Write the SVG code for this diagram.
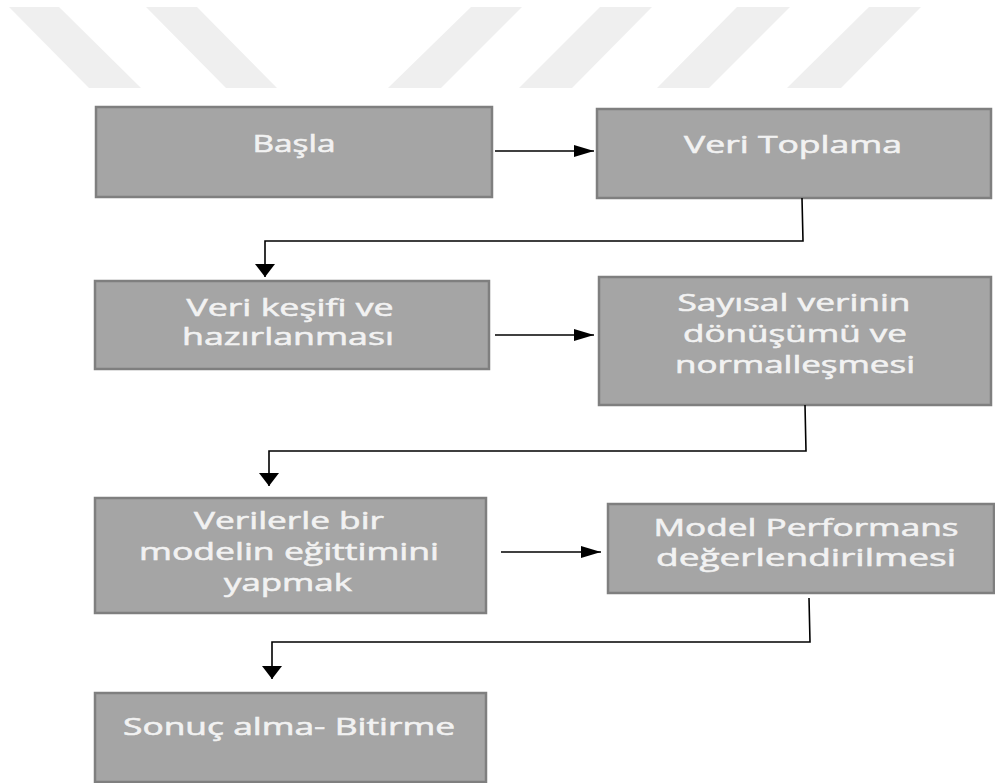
<svg xmlns="http://www.w3.org/2000/svg" width="995" height="783" viewBox="0 0 995 783">
<style>
.box{fill:#a5a5a5;stroke:#7f7f7f;stroke-width:2.5}
.lbl{font-family:"Open Sans","Liberation Sans",sans-serif;font-size:23px;fill:#f2f2f2;stroke:#f2f2f2;stroke-width:0.55;text-anchor:middle}
.wm{fill:#efefef}
.conn{fill:none;stroke:#000;stroke-width:1.6}
</style>
<defs>
<marker id="ah" markerUnits="userSpaceOnUse" markerWidth="21" markerHeight="13" refX="20" refY="6" orient="auto">
<path d="M0,0 L20,6 L0,12 z" fill="#000"/>
</marker>
<marker id="av" markerUnits="userSpaceOnUse" markerWidth="14" markerHeight="21" refX="13" refY="10" orient="auto">
<path d="M0,0 L13,10 L0,20 z" fill="#000"/>
</marker>
</defs>
<g id="watermark">
<polygon class="wm" points="9,7 59,7 141,88 89,88"/>
<polygon class="wm" points="146,7 197,7 277,88 226,88"/>
<polygon class="wm" points="471,7 522,7 441,88 388,88"/>
<polygon class="wm" points="600,7 652,7 572,88 519,88"/>
<polygon class="wm" points="737,7 790,7 709,88 657,88"/>
<polygon class="wm" points="869,7 921,7 841,88 787,88"/>
</g>
<g id="n1"><rect class="box" x="96" y="107" width="396" height="90"/>
<text class="lbl" x="294" y="152" textLength="83" lengthAdjust="spacingAndGlyphs">Başla</text></g>
<g id="n2"><rect class="box" x="597" y="109" width="394" height="89"/>
<text class="lbl" x="793" y="153" textLength="218" lengthAdjust="spacingAndGlyphs">Veri Toplama</text></g>
<g id="n3"><rect class="box" x="95" y="281" width="394" height="88"/>
<text class="lbl" x="290" y="316" textLength="207" lengthAdjust="spacingAndGlyphs">Veri keşifi ve</text>
<text class="lbl" x="288" y="345" textLength="212" lengthAdjust="spacingAndGlyphs">hazırlanması</text></g>
<g id="n4"><rect class="box" x="599" y="277" width="392" height="128"/>
<text class="lbl" x="794" y="311" textLength="233" lengthAdjust="spacingAndGlyphs">Sayısal verinin</text>
<text class="lbl" x="795" y="342" textLength="224" lengthAdjust="spacingAndGlyphs">dönüşümü ve</text>
<text class="lbl" x="795" y="373" textLength="240" lengthAdjust="spacingAndGlyphs">normalleşmesi</text></g>
<g id="n5"><rect class="box" x="95" y="498" width="391" height="115"/>
<text class="lbl" x="289" y="529" textLength="190" lengthAdjust="spacingAndGlyphs">Verilerle bir</text>
<text class="lbl" x="289" y="560" textLength="300" lengthAdjust="spacingAndGlyphs">modelin eğittimini</text>
<text class="lbl" x="288" y="591" textLength="128" lengthAdjust="spacingAndGlyphs">yapmak</text></g>
<g id="n6"><rect class="box" x="608" y="504" width="386" height="89"/>
<text class="lbl" x="806" y="536" textLength="305" lengthAdjust="spacingAndGlyphs">Model Performans</text>
<text class="lbl" x="806" y="566" textLength="300" lengthAdjust="spacingAndGlyphs">değerlendirilmesi</text></g>
<g id="n7"><rect class="box" x="95" y="693" width="391" height="89"/>
<text class="lbl" x="289" y="735" textLength="332" lengthAdjust="spacingAndGlyphs">Sonuç alma- Bitirme</text></g>
<g id="connectors">
<path class="conn" d="M495,151 L594,151" marker-end="url(#ah)"/>
<path class="conn" d="M802,198 L803,241 L265,241 L265,277" marker-end="url(#av)"/>
<path class="conn" d="M495,335 L594,335" marker-end="url(#ah)"/>
<path class="conn" d="M805,405 L806,451 L269,451 L269,486" marker-end="url(#av)"/>
<path class="conn" d="M501,552 L601,552" marker-end="url(#ah)"/>
<path class="conn" d="M809,598 L810,642 L272,642 L272,679" marker-end="url(#av)"/>
</g>
</svg>
